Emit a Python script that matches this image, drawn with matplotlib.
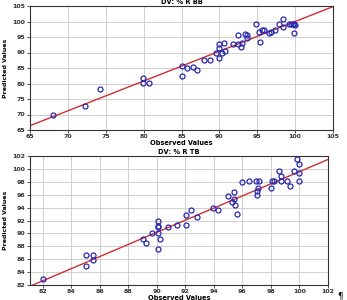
import matplotlib
matplotlib.use("Agg")
import matplotlib.pyplot as plt
import numpy as np

# Top panel data
top_title = "DV: % R BB"
top_obs = [68.1, 72.3, 74.3, 79.9, 79.9, 80.7, 85.0, 85.0, 85.7, 86.5, 87.0, 88.0, 88.7,
           89.5, 89.9, 89.9, 89.9, 90.3, 90.6, 90.7, 91.8, 92.4, 92.4, 92.8, 93.0, 93.4,
           93.6, 93.7, 94.9, 95.2, 95.3, 95.6, 95.9, 96.5, 96.8, 97.4, 97.9, 98.4, 98.4,
           99.2, 99.5, 99.7, 99.8, 99.8, 100.0]
top_pred = [70.0, 72.7, 78.2, 81.9, 80.2, 80.2, 85.7, 82.5, 84.9, 85.3, 84.3, 87.7, 87.6,
            89.7, 91.4, 92.9, 88.2, 90.0, 93.2, 90.5, 92.7, 95.8, 92.8, 91.8, 93.1, 95.9,
            94.7, 95.5, 99.3, 96.6, 93.5, 97.1, 97.4, 96.4, 96.6, 97.4, 99.3, 100.8, 98.2,
            99.3, 99.3, 99.3, 99.1, 96.3, 99.0]
top_fit = (0.96, 4.0)  # slope, intercept
top_ticks = [65, 70, 75, 80, 85, 90, 95, 100, 105]

# Bottom panel data
bot_title = "DV: % R TB"
bot_obs = [82.0, 85.06, 85.53, 85.06, 85.53, 89.06, 89.27, 89.67, 90.05, 90.05, 90.05,
           90.05, 90.05, 90.2, 90.8, 91.4, 92.06, 92.06, 92.4, 92.83, 93.9, 94.27, 94.99,
           95.3, 95.4, 95.43, 95.5, 95.6, 96.0, 96.45, 96.97, 97.16, 97.0, 97.0, 97.1,
           98.0, 98.1, 98.2, 98.56, 98.7, 98.73, 99.1, 99.3, 99.6, 99.8, 100.0, 100.0, 100.0]
bot_pred = [82.9, 86.6, 86.6, 84.9, 85.8, 89.1, 88.5, 90.0, 91.9, 91.0, 91.1, 90.0, 87.6,
            89.1, 91.0, 91.3, 91.3, 92.8, 93.7, 92.5, 94.0, 93.6, 95.8, 94.9, 95.4, 96.4,
            94.35, 93.0, 97.9, 98.2, 98.2, 98.2, 96.6, 95.9, 97.0, 97.0, 98.2, 98.2, 99.7,
            98.85, 98.2, 98.2, 97.3, 99.6, 101.5, 100.8, 99.4, 98.2]
bot_fit = (0.94, 82.0 - 0.94 * 81.3)
bot_ticks = [82, 84, 86, 88, 90, 92, 94, 96, 98, 100, 102]

W, H = 347, 300
fig = plt.figure(figsize=(W / 100, H / 100), dpi=100)

def make_ax(l, r, t, b):
    return fig.add_axes([l / W, 1 - b / H, (r - l) / W, (b - t) / H])

marker_col = "#2828b0"
line_col = "#d03030"
tick_font = dict(fontsize=4.5, fontweight="bold", color="#333333")

def style(ax, ticks, xlim, ylim, title):
    ax.set_xlim(*xlim)
    ax.set_ylim(*ylim)
    ax.set_xticks(ticks)
    ax.set_yticks(ticks)
    ax.set_xticklabels([str(t) for t in ticks], **tick_font)
    ax.set_yticklabels([str(t) for t in ticks], **tick_font)
    ax.tick_params(axis="both", length=2, width=0.6, pad=1.2, colors="#333333")
    ax.grid(True, color="#c8c8c8", linewidth=0.6)
    ax.set_axisbelow(True)
    for s in ax.spines.values():
        s.set_color("#333333")
        s.set_linewidth(0.8)
    ax.set_xlabel("Observed Values", fontsize=4.8, fontweight="bold", labelpad=0.5)
    ax.set_ylabel("Predicted Values", fontsize=4.5, fontweight="bold", labelpad=3)
    ax.set_title(title, fontsize=4.8, fontweight="bold", pad=1.5)

def panel(ax, obs, pred, fit, xlim):
    xs = np.array(xlim)
    ax.plot(xs, fit[0] * xs + fit[1], color=line_col, linewidth=1.0, zorder=2)
    ax.plot(obs, pred, linestyle="none", marker="o", markersize=3.6,
            markerfacecolor="none", markeredgecolor=marker_col, markeredgewidth=0.9, zorder=3)

ax1 = make_ax(30, 333, 6, 130)
panel(ax1, top_obs, top_pred, top_fit, (65, 105))
style(ax1, top_ticks, (65, 105), (65, 105), top_title)

ax2 = make_ax(30, 328, 156, 285)
panel(ax2, bot_obs, bot_pred, bot_fit, (81.1, 102))
style(ax2, bot_ticks, (81.1, 102), (82, 102), bot_title)

fig.text(340 / W, 1 - 296 / H, "¶", fontsize=6, ha="center", va="center")

fig.savefig("out.png", dpi=100)
